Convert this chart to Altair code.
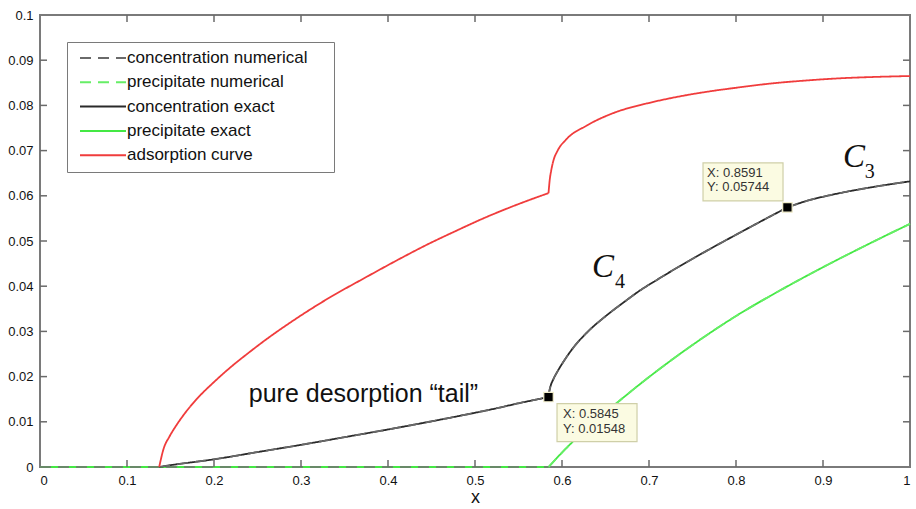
import altair as alt
import pandas as pd

# ---- curves (x in [0, 1]) ----
# adsorption curve: rising branch up to the front, then the upper branch
ads_x1 = [0.137, 0.142, 0.149, 0.157, 0.165, 0.180, 0.200, 0.218, 0.240, 0.257,
          0.295, 0.333, 0.372, 0.410, 0.446, 0.480, 0.506, 0.545, 0.5845]
ads_y1 = [0.0, 0.0040, 0.0068, 0.0093, 0.0115, 0.0150, 0.0188, 0.0219, 0.0253, 0.0278,
          0.0329, 0.0375, 0.0417, 0.0457, 0.0493, 0.0524, 0.0547, 0.0578, 0.0606]
ads_x2 = [0.5845, 0.5860, 0.5875, 0.590, 0.595, 0.605, 0.628, 0.659, 0.699, 0.730,
          0.766, 0.800, 0.843, 0.880, 0.920, 0.960, 1.000]
ads_y2 = [0.0606, 0.0637, 0.0655, 0.0677, 0.0700, 0.0725, 0.0755, 0.0783, 0.0805, 0.0818,
          0.0830, 0.0839, 0.0849, 0.0855, 0.0860, 0.0863, 0.0865]

# exact concentration: desorption tail, then C4 up to the second tip, then C3
conc_x1 = [0.137, 0.150, 0.200, 0.250, 0.300, 0.350, 0.400, 0.450, 0.500, 0.525,
           0.550, 0.570, 0.5845]
conc_y1 = [0.0, 0.0004, 0.0017, 0.0033, 0.0049, 0.0066, 0.0083, 0.0101, 0.0120, 0.0130,
           0.0141, 0.0149, 0.01548]
conc_x2 = [0.5845, 0.5855, 0.587, 0.590, 0.595, 0.602, 0.613, 0.630, 0.651, 0.670,
           0.690, 0.710, 0.728, 0.766, 0.805, 0.835, 0.8591]
conc_y2 = [0.01548, 0.0168, 0.0180, 0.0194, 0.0212, 0.0234, 0.0264, 0.0300, 0.0335, 0.0363,
           0.0391, 0.0415, 0.0436, 0.0478, 0.0519, 0.0550, 0.05744]
conc_x3 = [0.8591, 0.880, 0.912, 0.950, 1.000]
conc_y3 = [0.05744, 0.0588, 0.0603, 0.0617, 0.0632]

# precipitate: zero ahead of the front, then growing
prec_x1 = [0.0, 0.5845]
prec_y1 = [0.0, 0.0]
prec_x2 = [0.5845, 0.600, 0.620, 0.640, 0.660, 0.700, 0.750, 0.800, 0.850, 0.900,
           0.950, 1.000]
prec_y2 = [0.0, 0.0032, 0.0070, 0.0105, 0.0137, 0.0199, 0.0270, 0.0334, 0.0390, 0.0442,
           0.0491, 0.0538]

# numerical concentration is zero ahead of the front
num_zero_x = [0.0, 0.5845]
num_zero_y = [0.0, 0.0]

# data tips
tip_x = [0.5845, 0.8591]
tip_y = [0.01548, 0.05744]

x_ticks = [0.1, 0.2, 0.3, 0.4, 0.5, 0.6, 0.7, 0.8, 0.9]
y_ticks = [0.01, 0.02, 0.03, 0.04, 0.05, 0.06, 0.07, 0.08, 0.09]
x_labels = [0, 0.1, 0.2, 0.3, 0.4, 0.5, 0.6, 0.7, 0.8, 0.9, 1]
y_labels = [0, 0.01, 0.02, 0.03, 0.04, 0.05, 0.06, 0.07, 0.08, 0.09, 0.1]

series_names = ["concentration numerical", "precipitate numerical",
                "concentration exact", "precipitate exact", "adsorption curve"]
series_colors = ["#6a6a6a", "#66ee66", "#2a2a2a", "#44e844", "#f03c3c"]
series_dash = [[11, 7], [11, 7], [1, 0], [1, 0], [1, 0]]

W, H = 870, 452
FONT = "Liberation Sans"
SERIF = "Liberation Serif"


def frame(name, pieces):
    parts = [pd.DataFrame({"x": xs_, "y": ys_, "series": name, "seg": k})
             for k, (xs_, ys_) in enumerate(pieces)]
    return pd.concat(parts, ignore_index=True)


xs = alt.Scale(domain=[0, 1], nice=False, zero=False)
ys = alt.Scale(domain=[0, 0.1], nice=False, zero=False)
# trailing blanks (closed by a zero-width space so they are kept) widen the legend box
color = alt.Color("series:N", title=None,
                  scale=alt.Scale(domain=series_names, range=series_colors),
                  legend=alt.Legend(orient="none", legendX=27, legendY=27,
                                    symbolType="stroke", symbolSize=2116,
                                    symbolStrokeWidth=2, labelFontSize=17,
                                    labelFont=FONT, labelColor="#111", labelLimit=400,
                                    labelExpr="datum.label + '\u00a0\u00a0\u00a0\u00a0\u200b'",
                                    strokeColor="#7a7a7a", fillColor="white",
                                    padding=7, clipHeight=18, rowPadding=6.3,
                                    symbolOffset=5, labelOffset=0))
dash = alt.StrokeDash("series:N", title=None,
                      scale=alt.Scale(domain=series_names, range=series_dash))

X = alt.X("x:Q", scale=xs,
          axis=alt.Axis(values=x_labels, format="~g", ticks=False, domain=False,
                        grid=False, labelFontSize=13, labelFont=FONT,
                        labelColor="#111", labelPadding=7, title="x",
                        titleFontSize=18, titleFont=FONT, titleFontWeight="normal",
                        titleColor="#111", titlePadding=1))
Y = alt.Y("y:Q", scale=ys,
          axis=alt.Axis(values=y_labels, format="~g", ticks=False, domain=False,
                        grid=False, labelFontSize=13, labelFont=FONT,
                        labelColor="#111", labelPadding=7, title=None))


def curve(df, width=1.8):
    return alt.Chart(df).mark_line(strokeWidth=width, interpolate="monotone").encode(
        x=X, y=Y, color=color, strokeDash=dash, detail="seg:N")


conc_pieces = [(conc_x1, conc_y1), (conc_x2, conc_y2), (conc_x3, conc_y3)]
prec_pieces = [(prec_x1, prec_y1), (prec_x2, prec_y2)]

prec_exact = curve(frame("precipitate exact", prec_pieces))
prec_num = curve(frame("precipitate numerical", prec_pieces))
conc_exact = curve(frame("concentration exact", conc_pieces))
conc_num = curve(frame("concentration numerical",
                       [(num_zero_x, num_zero_y)] + conc_pieces), width=1.6)
ads = curve(frame("adsorption curve", [(ads_x1, ads_y1), (ads_x2, ads_y2)]))

# inward tick marks on all four sides of the box
tick_style = dict(color="#6a6a6a", strokeWidth=1.5)
xt = pd.DataFrame({"t": x_ticks})
yt = pd.DataFrame({"t": y_ticks})
ticks = alt.layer(
    alt.Chart(xt).mark_rule(**tick_style).encode(
        x=alt.X("t:Q", scale=xs), y=alt.value(H), y2=alt.value(H - 7)),
    alt.Chart(xt).mark_rule(**tick_style).encode(
        x=alt.X("t:Q", scale=xs), y=alt.value(0), y2=alt.value(7)),
    alt.Chart(yt).mark_rule(**tick_style).encode(
        y=alt.Y("t:Q", scale=ys), x=alt.value(0), x2=alt.value(7)),
    alt.Chart(yt).mark_rule(**tick_style).encode(
        y=alt.Y("t:Q", scale=ys), x=alt.value(W - 7), x2=alt.value(W)),
)

# text annotations
tail_df = pd.DataFrame({"x": [0.240], "y": [0.01438], "t": ["pure desorption \u201ctail\u201d"]})
tail = alt.Chart(tail_df).mark_text(align="left", baseline="alphabetic", font=FONT,
                                    fontSize=25, color="#111").encode(
    x=alt.X("x:Q", scale=xs), y=alt.Y("y:Q", scale=ys), text="t:N")

big_df = pd.DataFrame({"x": [0.6345, 0.923], "y": [0.04204, 0.06637], "t": ["C", "C"]})
big_c = alt.Chart(big_df).mark_text(align="left", baseline="alphabetic", font=SERIF,
                                    fontStyle="italic", fontSize=33, color="#111").encode(
    x=alt.X("x:Q", scale=xs), y=alt.Y("y:Q", scale=ys), text="t:N")
sub_df = pd.DataFrame({"x": [0.661, 0.948], "y": [0.0396, 0.06394], "t": ["4", "3"]})
sub_c = alt.Chart(sub_df).mark_text(align="left", baseline="alphabetic", font=SERIF,
                                    fontSize=20, color="#111").encode(
    x=alt.X("x:Q", scale=xs), y=alt.Y("y:Q", scale=ys), text="t:N")


# data-tip boxes with their read-outs
def data_tip(i, box_dx, box_dy, text_dx, text_dy):
    df = pd.DataFrame({"x": [tip_x[i]], "y": [tip_y[i]],
                       "lx": [f"X: {tip_x[i]:.4g}"], "ly": [f"Y: {tip_y[i]:.4g}"]})
    base = alt.Chart(df).encode(x=alt.X("x:Q", scale=xs), y=alt.Y("y:Q", scale=ys))
    box = base.mark_rect(width=80, height=38, xOffset=box_dx, yOffset=box_dy,
                         fill="#fbfbe2", stroke="#cfcfa8", strokeWidth=1.2)
    txt = dict(align="left", baseline="middle", font=FONT, fontSize=13, color="#333")
    l1 = base.mark_text(dx=text_dx, dy=text_dy, **txt).encode(text="lx:N")
    l2 = base.mark_text(dx=text_dx, dy=text_dy + 14.5, **txt).encode(text="ly:N")
    marker = base.mark_square(size=90, color="black", fill="black",
                              stroke="#f2eecc", strokeWidth=1.2, opacity=1)
    return alt.layer(box, l1, l2, marker)


tip1 = data_tip(0, 48.5, 25.5, 14.5, 17)
tip2 = data_tip(1, -44.4, -25.4, -80.4, -34.4)

chart = alt.layer(
    prec_exact, prec_num, conc_exact, conc_num, ads,
    ticks, tail, big_c, sub_c, tip1, tip2
).properties(
    width=W, height=H,
    autosize=alt.AutoSizeParams(type="none"),
    padding={"left": 40, "top": 15, "right": 6, "bottom": 42},
    background="white",
).configure_view(
    stroke="#7a7a7a", strokeWidth=2
)

chart.save("out.html", embed_options={"renderer": "svg", "actions": False})
